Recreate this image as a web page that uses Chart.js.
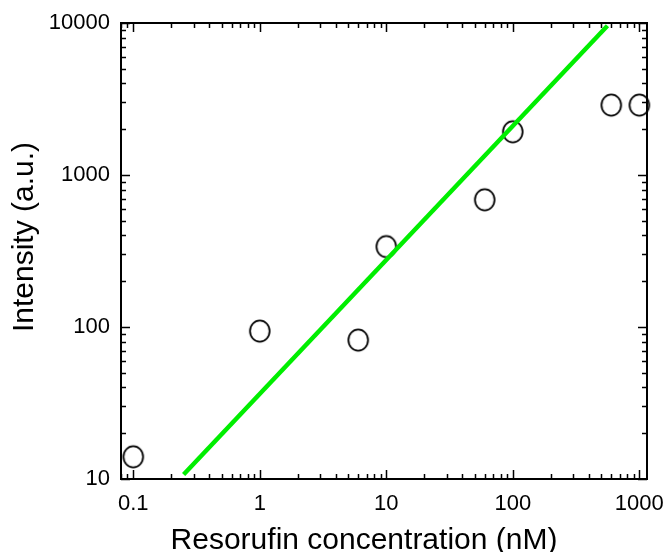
<!DOCTYPE html>
<html>
<head>
<meta charset="utf-8">
<script src="https://cdn.jsdelivr.net/npm/chart.js@4.4.1/dist/chart.umd.min.js"></script>
<style>
  body { margin: 0; background: #fff; }
  #mycanvas { display: block; }
</style>
</head>
<body>
<canvas id="mycanvas" width="665" height="552"></canvas>
<script>
// measured points
var concentration = [0.1, 1, 6, 10, 60, 100, 600, 1000];
var intensity = [14, 94, 82, 338, 687, 1925, 2884, 2884];

// fitted line, end points
var fitX = [0.25, 560];
var fitY = [10.7, 9600];

// axis labels
var xTickValues = [0.1, 1, 10, 100, 1000];
var xTickLabels = ['0.1', '1', '10', '100', '1000'];
var yTickValues = [10, 100, 1000, 10000];
var yTickLabels = ['10', '100', '1000', '10000'];
var xTitle = 'Resorufin concentration (nM)';
var yTitle = 'Intensity (a.u.)';

var points = [];
for (var i in concentration) {
	points.push({ x: concentration[i], y: intensity[i] });
}
var fitLine = [];
for (var i in fitX) {
	fitLine.push({ x: fitX[i], y: fitY[i] });
}

var FONT = 'Liberation Sans, Arial, sans-serif';

// open ellipse marker
var marker = document.createElement('canvas');
marker.width = 26;
marker.height = 28;
var mctx = marker.getContext('2d');
mctx.lineWidth = 1.8;
mctx.strokeStyle = '#000';
mctx.beginPath();
mctx.ellipse(13, 14, 9.8, 10.6, 0, 0, Math.PI * 2);
mctx.stroke();

function decadeTicks(scale) {
	var ticks = [];
	var lo = Math.floor(Math.log10(scale.min));
	var hi = Math.ceil(Math.log10(scale.max));
	for (var e = lo; e <= hi; e++) {
		for (var k = 1; k <= 9; k++) {
			var v = parseFloat((k * Math.pow(10, e)).toPrecision(6));
			if (v >= scale.min - 1e-9 && v <= scale.max + 1e-9) ticks.push({ value: v });
		}
	}
	scale.ticks = ticks;
}

function labelFor(values, labels) {
	return function(v) {
		for (var i = 0; i < values.length; i++) {
			if (Math.abs(v - values[i]) / values[i] < 1e-6) return labels[i];
		}
		return '';
	};
}

function isDecade(v) {
	var e = Math.log10(v);
	return Math.abs(e - Math.round(e)) < 1e-6;
}

// frame, inward ticks on all four sides, axis titles
var frameTicks = {
	id: 'frameTicks',
	afterDraw: function(chart) {
		var ctx = chart.ctx;
		var a = chart.chartArea;
		var xs = chart.scales.x;
		var ys = chart.scales.y;
		ctx.save();
		ctx.strokeStyle = '#000';
		ctx.lineWidth = 1.5;
		ctx.beginPath();
		xs.ticks.forEach(function(t) {
			var px = Math.round(xs.getPixelForValue(t.value)) + 0.5;
			var len = isDecade(t.value) ? 9 : 5;
			ctx.moveTo(px, a.bottom);
			ctx.lineTo(px, a.bottom - len);
			ctx.moveTo(px, a.top);
			ctx.lineTo(px, a.top + len);
		});
		ys.ticks.forEach(function(t) {
			var py = Math.round(ys.getPixelForValue(t.value)) + 0.5;
			var len = isDecade(t.value) ? 9 : 5;
			ctx.moveTo(a.left, py);
			ctx.lineTo(a.left + len, py);
			ctx.moveTo(a.right, py);
			ctx.lineTo(a.right - len, py);
		});
		ctx.stroke();
		ctx.lineWidth = 2;
		ctx.strokeRect(a.left, a.top, a.right - a.left, a.bottom - a.top);

		ctx.fillStyle = '#000';
		ctx.font = '30px ' + FONT;
		ctx.textAlign = 'center';
		ctx.textBaseline = 'alphabetic';
		ctx.fillText(xTitle, 364, 549);
		ctx.translate(33, 237);
		ctx.rotate(-Math.PI / 2);
		ctx.fillText(yTitle, 0, 0);
		ctx.restore();
	}
};

var ctx = document.getElementById('mycanvas');
var chart = new Chart(ctx, {
	type: 'scatter',
	data: {
		datasets: [
			{
				type: 'line',
				label: 'fit',
				data: fitLine,
				borderColor: '#00ee00',
				borderWidth: 4.5,
				pointRadius: 0,
				fill: false,
				order: 0
			},
			{
				label: 'data',
				data: points,
				pointStyle: marker,
				pointRadius: 10,
				clip: false,
				order: 1
			}
		]
	},
	options: {
		responsive: false,
		animation: false,
		events: [],
		layout: {
			autoPadding: false,
			padding: { top: 23, right: 18, bottom: 0, left: 0 }
		},
		plugins: {
			legend: { display: false },
			tooltip: { enabled: false }
		},
		scales: {
			x: {
				type: 'logarithmic',
				min: 0.08,
				max: 1150,
				afterBuildTicks: decadeTicks,
				afterFit: function(scale) {
					scale.height = 73;
					scale.paddingLeft = 0;
					scale.paddingRight = 0;
				},
				grid: { display: false, drawTicks: false },
				border: { display: false },
				ticks: {
					autoSkip: false,
					maxRotation: 0,
					padding: 12,
					color: '#000',
					font: { family: FONT, size: 22 },
					callback: labelFor(xTickValues, xTickLabels)
				}
			},
			y: {
				type: 'logarithmic',
				min: 10,
				max: 10000,
				afterBuildTicks: decadeTicks,
				afterFit: function(scale) {
					scale.width = 121;
					scale.paddingTop = 0;
					scale.paddingBottom = 0;
				},
				grid: { display: false, drawTicks: false },
				border: { display: false },
				ticks: {
					autoSkip: false,
					padding: 11,
					color: '#000',
					font: { family: FONT, size: 22 },
					callback: labelFor(yTickValues, yTickLabels)
				}
			}
		}
	},
	plugins: [frameTicks]
});
</script>
</body>
</html>
